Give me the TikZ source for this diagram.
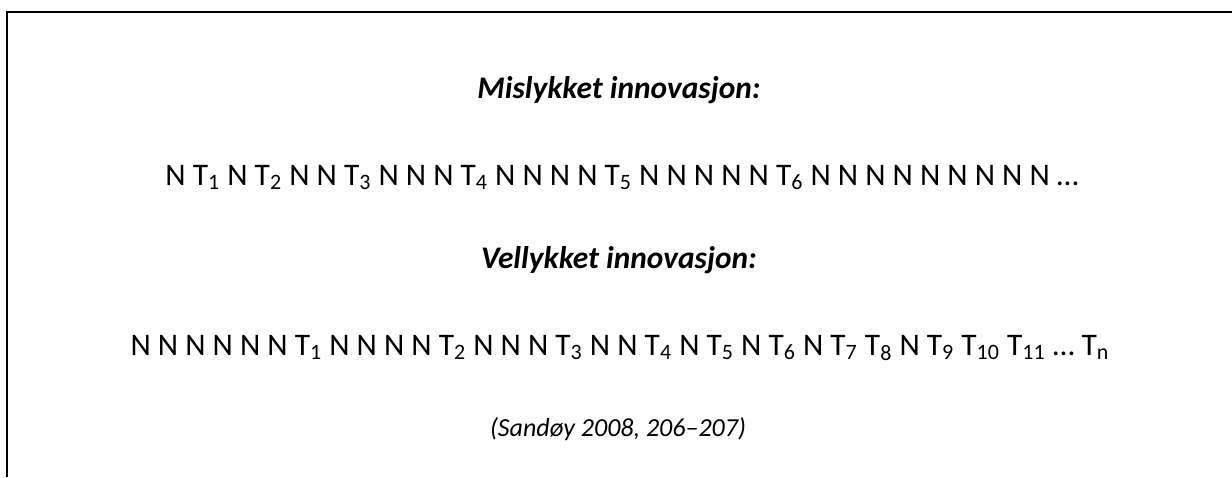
\documentclass[tikz,border=0pt]{standalone}
\usepackage{fontspec}
\setmainfont{Carlito}
\newcommand{\sub}[1]{\textsubscript{#1}}
\begin{document}
\begin{tikzpicture}[x=0.5pt,y=-0.5pt,
  txt/.style={anchor=base,inner sep=0pt,font=\fontsize{15.7}{18}\selectfont},
  head/.style={txt,font=\fontsize{15.7}{18}\selectfont\bfseries\itshape},
  cite/.style={anchor=base,inner sep=0pt,font=\fontsize{13}{15}\selectfont\itshape}]
\useasboundingbox (0,0) rectangle (1232,477);
\draw[line width=1.1pt] (7,477) -- (7,12) -- (1232,12);
\node[head] (h1) at (619,98) {Mislykket innovasjon:};
\node[txt] (l1) at (622,185) {N T\sub{1} N T\sub{2} N N T\sub{3} N N N T\sub{4} N N N N T\sub{5} N N N N N T\sub{6} N N N N N N N N N …};
\node[head] (h2) at (619,268) {Vellykket innovasjon:};
\node[txt] (l2) at (620,355) {N N N N N N T\sub{1} N N N N T\sub{2} N N N T\sub{3} N N T\sub{4} N T\sub{5} N T\sub{6} N T\sub{7} T\sub{8} N T\sub{9} T\sub{10} T\sub{11} … T\sub{n}};
\node[cite] (c) at (618,436) {(Sandøy 2008, 206–207)};
\end{tikzpicture}
\end{document}
